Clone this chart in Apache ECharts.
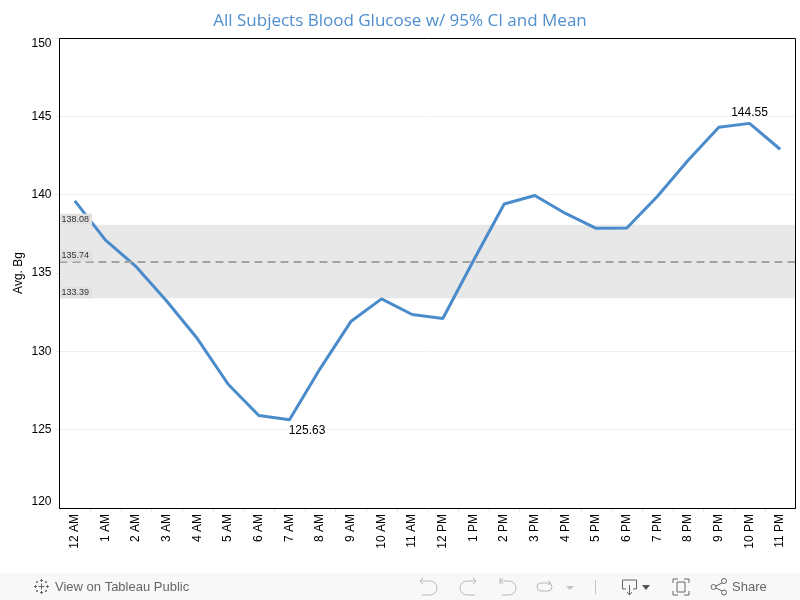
<!DOCTYPE html>
<html>
<head>
<meta charset="utf-8">
<style>html,body{margin:0;padding:0;background:#fff}#c{width:800px;height:600px}</style>
<script src="https://cdn.jsdelivr.net/npm/echarts@6/dist/echarts.min.js"></script>
</head>
<body>
<div id="c"></div>
<script>
const hours = ['12 AM','1 AM','2 AM','3 AM','4 AM','5 AM','6 AM','7 AM','8 AM','9 AM','10 AM','11 AM','12 PM','1 PM','2 PM','3 PM','4 PM','5 PM','6 PM','7 PM','8 PM','9 PM','10 PM','11 PM'];
const avgBg = [139.6,137.1,135.4,133.2,130.8,127.9,125.9,125.63,128.9,131.9,133.35,132.35,132.1,135.8,139.4,139.95,138.8,137.85,137.87,139.9,142.2,144.3,144.55,142.9];
const ciUpper = 138.08;
const ciLower = 133.39;
const meanBg = 135.74;
const minIndex = 7;
const maxIndex = 22;

const F='Liberation Sans';
const bandLabel = {show:true,position:'insideStartTop',formatter:p=>p.value.toFixed(2),fontSize:9,color:'#333',
  fontFamily:F,backgroundColor:'#e0e0e0',padding:[1,3,1,2],distance:0};
const chart = echarts.init(document.getElementById('c'),null,{renderer:'canvas'});
const light={stroke:'#b8b8b8',fill:'none',lineWidth:1};
const dark={stroke:'#666',fill:'none',lineWidth:1};
const pl=(pts,style)=>({type:'polyline',silent:true,shape:{points:pts},style});
const arc=(cx,cy,r,a,b,style)=>({type:'arc',silent:true,shape:{cx,cy,r,startAngle:a,endAngle:b,clockwise:true},style});
const circ=(cx,cy,r,style)=>({type:'circle',silent:true,shape:{cx,cy,r},style});
const tri=(pts,fill)=>({type:'polygon',silent:true,shape:{points:pts},style:{fill}});
const plus=(x,y,a)=>[pl([[x,y-a],[x,y+a]],dark),pl([[x-a,y],[x+a,y]],dark)];
const PI=Math.PI;
const ptLabel=(offset)=>({show:true,position:'inside',offset,fontFamily:F,fontSize:12,color:'#000',formatter:p=>p.value.toFixed(2)});
chart.setOption({
  animation:false,
  backgroundColor:'#fff',
  title:{text:'All Subjects Blood Glucose w/ 95% CI and Mean',left:'center',top:8,
    textStyle:{fontFamily:'Open Sans',fontWeight:'normal',fontSize:17,color:'#4f8fcf'}},
  grid:{left:59.5,top:38,width:736,height:470,show:false},
  xAxis:{type:'category',data:hours,boundaryGap:true,
    axisLine:{show:false},
    axisTick:{show:true,alignWithLabel:false,length:4,lineStyle:{color:'#e6e6e6'}},
    axisLabel:{rotate:90,fontFamily:F,fontSize:12,color:'#000',margin:6,interval:0}},
  yAxis:{type:'value',min:120,max:150,interval:5,name:'Avg. Bg',nameLocation:'middle',nameGap:35,nameMoveOverlap:false,
    nameTextStyle:{fontFamily:F,fontSize:12,color:'#000'},
    axisLine:{show:false},
    axisTick:{show:true,length:4,lineStyle:{color:'#e6e6e6'}},
    axisLabel:{fontFamily:F,fontSize:12,color:'#000',margin:8,verticalAlignMinLabel:'bottom',verticalAlignMaxLabel:'top'},
    splitLine:{show:true,showMinLine:false,showMaxLine:false,lineStyle:{color:'#f0f0f0',width:1}}},
  series:[{
    type:'line',name:'Avg. Bg',symbol:'none',showSymbol:false,smooth:false,
    lineStyle:{color:'#4a8bcb',width:3},itemStyle:{color:'#4a8bcb'},
    data:avgBg,
    markPoint:{silent:true,symbol:'circle',symbolSize:1,itemStyle:{color:'transparent'},
      data:[
        {coord:[hours[minIndex],avgBg[minIndex]],value:avgBg[minIndex],label:ptLabel([17.5,11])},
        {coord:[hours[maxIndex],avgBg[maxIndex]],value:avgBg[maxIndex],label:ptLabel([0,-11])}
      ]},
    markArea:{silent:true,itemStyle:{color:'#e8e8e8'},label:{show:false},data:[[{yAxis:ciLower},{yAxis:ciUpper}]]},
    markLine:{silent:true,symbol:'none',animation:false,
      data:[
        {yAxis:meanBg,lineStyle:{color:'#a3a3a3',type:[8,5],width:2},label:bandLabel},
        {yAxis:ciUpper,lineStyle:{width:0,color:'transparent'},label:bandLabel},
        {yAxis:ciLower,lineStyle:{width:0,color:'transparent'},label:bandLabel}
      ]}
  }],
  graphic:[
    {type:'rect',silent:true,z:100,shape:{x:59.5,y:38.5,width:736,height:470},style:{fill:'none',stroke:'#000',lineWidth:1}},
    {type:'rect',silent:true,shape:{x:0,y:573,width:800,height:27},style:{fill:'#f8f8f8'},z:-1},
    {type:'text',silent:true,style:{x:55,y:587,text:'View on Tableau Public',font:'13px "Liberation Sans"',fill:'#666',textVerticalAlign:'middle'}},
    {type:'text',silent:true,style:{x:732,y:587,text:'Share',font:'13px "Liberation Sans"',fill:'#666',textVerticalAlign:'middle'}},
    // Tableau logo
    ...plus(41.5,586.5,3),...plus(41.5,580.5,1.5),...plus(41.5,592.5,1.5),...plus(35.5,586.5,1.5),...plus(47.5,586.5,1.5),
    ...plus(37,582,1),...plus(46,582,1),...plus(37,591,1),...plus(46,591,1),
    // undo
    pl([[423,578],[420,581],[423,584]],light),pl([[420,581],[430,581]],light),arc(430,588,7,-PI/2,PI/2,light),pl([[430,595],[422,595]],light),
    // redo
    pl([[473,578],[476,581],[473,584]],light),pl([[476,581],[467,581]],light),arc(467,588,7,PI/2,3*PI/2,light),pl([[467,595],[475,595]],light),
    // revert
    pl([[500,578],[500,584]],light),pl([[503,578],[500,581],[503,584]],light),pl([[500,581],[509,581]],light),arc(509,588,7,-PI/2,PI/2,light),pl([[509,595],[502,595]],light),
    // refresh
    pl([[541,583],[548,583]],light),arc(548,587,4,-PI/2,PI/2,light),pl([[548,591],[541,591]],light),arc(541,587,4,PI/2,3*PI/2,light),pl([[548,581],[551,583],[548,585]],light),
    tri([[566,586],[574,586],[570,590]],'#c4c4c4'),
    pl([[595.5,580],[595.5,594]],{stroke:'#c4c4c4',fill:'none',lineWidth:1}),
    // download
    pl([[626,589],[622.5,589],[622.5,580],[636.5,580],[636.5,589],[633,589]],dark),pl([[629.5,585],[629.5,595]],dark),pl([[627,592],[629.5,595],[632,592]],dark),
    tri([[642,585],[650,585],[646,590]],'#555'),
    // fullscreen
    pl([[673,583],[673,579],[678,579]],dark),pl([[684,579],[689,579],[689,583]],dark),pl([[689,591],[689,595],[684,595]],dark),pl([[678,595],[673,595],[673,591]],dark),
    {type:'rect',silent:true,shape:{x:677,y:582,width:8,height:10},style:dark},
    // share
    pl([[724,582],[714,587],[724,592]],dark),
    circ(713.5,587,2.5,{stroke:'#666',fill:'#f8f8f8',lineWidth:1}),circ(724,581,2.5,{stroke:'#666',fill:'#f8f8f8',lineWidth:1}),circ(724,592.5,2.5,{stroke:'#666',fill:'#f8f8f8',lineWidth:1})
  ]
});
</script>
</body>
</html>
